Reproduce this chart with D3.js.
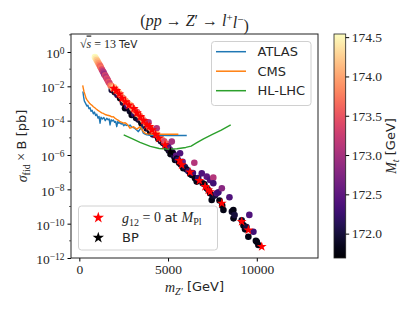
<!DOCTYPE html>
<html>
<head>
<meta charset="utf-8">
<script src="https://cdn.jsdelivr.net/npm/d3@7"></script>
<style>
body { margin: 0; background: #fff; }
text { fill: #262626; }
</style>
</head>
<body>
<div id="chart"></div>
<script>
// experimental limits: mass [GeV] and log10 of sigma x B [pb]
var atlasMass = [200,240,280,330,380,430,480,540,600,660,720,790,850,920,980,1050,1110,1167,1220,1300,1380,1460,1545,1620,1680,1730,1790,1850,1917,1990,2050,2108,2170,2230,2294,2360,2430,2500,2576,2650,2720,2800,2858,2950,3044,3130,3230,3326,3420,3517,3560,3608,3700,3800,4000,4500,5000,5500,6054];
var atlasLog = [-2.30,-2.60,-2.85,-2.95,-3.05,-3.15,-3.10,-3.30,-3.25,-3.45,-3.40,-3.60,-3.50,-3.70,-3.62,-3.85,-3.75,-4.15,-3.80,-3.90,-3.82,-4.00,-3.86,-3.95,-3.90,-4.25,-3.95,-4.02,-3.96,-4.10,-4.05,-4.35,-4.05,-4.15,-4.12,-4.20,-4.15,-4.30,-4.22,-4.28,-4.25,-4.32,-4.25,-4.38,-4.41,-4.45,-4.55,-4.64,-4.50,-4.37,-4.62,-4.73,-4.78,-4.83,-4.85,-4.86,-4.86,-4.86,-4.86];

var cmsMass = [190,220,260,321,380,440,507,570,640,710,789,870,950,1050,1167,1260,1350,1450,1545,1650,1750,1830,1917,2000,2100,2200,2294,2400,2500,2580,2672,2760,2858,2950,3044,3140,3236,3330,3422,3520,3608,3700,3800,4200,5000,5580];
var cmsLog = [-1.94,-2.10,-2.30,-2.50,-2.70,-2.80,-2.89,-2.98,-3.05,-3.10,-3.19,-3.25,-3.32,-3.40,-3.48,-3.55,-3.58,-3.64,-3.67,-3.70,-3.73,-3.78,-3.77,-3.85,-3.92,-3.98,-4.06,-4.10,-4.14,-4.12,-4.19,-4.30,-4.44,-4.40,-4.35,-4.42,-4.50,-4.42,-4.35,-4.50,-4.64,-4.72,-4.77,-4.79,-4.79,-4.79];

var hllhcMass = [2500,3000,3420,4000,4500,5000,5500,6000,6300,6600,7000,7500,8000,8530];
var hllhcLog = [-4.83,-5.06,-5.26,-5.50,-5.62,-5.66,-5.64,-5.56,-5.48,-5.30,-5.06,-4.80,-4.55,-4.25];

// scan points: [m_Z' GeV, log10 sigma pb, M_t GeV]
var scan = [
  [880,-0.30,174.52],[930,-0.38,174.4],[980,-0.47,174.25],[1030,-0.56,174.1],[1080,-0.66,173.95],
  [1130,-0.74,173.8],[1180,-0.84,173.6],[1220,-0.92,173.7],[1270,-1.02,173.4],[1320,-1.12,173.2],
  [1370,-1.20,173.05],[1400,-1.30,172.9],[1450,-1.36,173.3],[1500,-1.46,173.1],[1550,-1.55,173.4],
  [1600,-1.64,173.25],[1650,-1.75,173.5],[1700,-1.82,173.3],[1760,-1.95,173.7],[1826,-2.21,172.0],
  [1850,-2.02,173.9],[1900,-2.12,174.1],
  [1960,-2.05,174.2],[2000,-2.35,171.9],[2050,-2.20,174.0],[2120,-2.28,173.8],[2150,-2.50,172.1],
  [2200,-2.33,174.2],[2280,-2.45,173.9],[2300,-2.70,171.8],[2350,-2.55,174.1],[2450,-2.68,173.7],
  [2460,-2.95,172.0],[2520,-2.78,174.2],[2576,-3.28,171.8],[2600,-2.85,173.9],[2680,-2.95,174.0],
  [2700,-3.15,172.3],[2780,-3.05,173.8],[2850,-3.45,171.9],[2880,-3.10,174.1],[2954,-3.67,171.8],
  [2980,-3.25,173.7],[3060,-3.35,174.2],[3100,-3.62,172.2],[3150,-3.45,173.9],[3200,-3.85,171.9],
  [3250,-3.50,173.5],[3300,-3.62,174.1],[3350,-3.95,172.0],[3400,-3.70,173.8],[3480,-3.85,174.0],
  [3500,-4.15,171.8],[3560,-3.90,173.6],[3620,-4.00,174.2],[3650,-4.28,172.1],[3700,-4.05,173.3],
  [3760,-4.20,173.9],[3800,-4.45,171.9],[3850,-4.22,174.0],[3900,-4.10,173.1],[3950,-4.40,173.7],
  [4000,-4.68,171.8],[4050,-4.45,174.1],[4120,-4.55,173.8],[4150,-4.80,172.0],[4220,-4.65,173.9],
  [4300,-4.85,172.2],[4360,-4.44,173.1],[4380,-4.80,174.0],[4450,-5.05,171.8],[4500,-4.95,173.7],
  [4566,-4.99,172.9],[4600,-5.20,172.0],[4650,-5.10,173.9],[4720,-5.30,171.9],[4780,-5.20,173.4],
  [4850,-5.45,172.1],[4900,-5.35,173.6],
  [4950,-5.62,171.8],[5000,-5.50,172.4],[5050,-5.75,171.9],[5100,-5.68,172.6],[5150,-5.95,171.8],
  [5210,-5.22,173.0],[5250,-5.85,172.3],[5300,-5.95,171.8],[5350,-6.10,172.0],[5395,-6.29,171.8],
  [5450,-6.05,172.5],[5500,-6.20,171.9],[5560,-6.30,172.2],[5620,-6.45,171.8],[5676,-5.90,172.4],
  [5720,-6.55,171.9],[5770,-6.48,171.8],[5820,-6.40,172.6],[5860,-6.77,171.8],[5950,-6.70,172.1],
  [6050,-6.85,171.9],[6150,-6.95,172.2],[6250,-7.10,171.8],[6335,-7.16,171.8],[6400,-7.05,172.3],
  [6480,-6.45,173.1],[6520,-7.36,171.8],[6615,-7.55,171.8],[6700,-7.35,172.2],[6900,-7.07,172.4],
  [6950,-7.65,171.9],[7050,-7.70,171.8],[7180,-7.26,172.5],[7180,-7.94,171.8],[7280,-8.05,171.9],
  [7370,-7.45,172.4],[7370,-8.23,171.8],[7460,-8.62,171.8],[7520,-8.40,171.9],[7550,-7.32,173.1],
  [7550,-7.65,172.3],[7650,-8.35,172.0],[7745,-8.23,172.4],[7835,-8.17,172.3],[7900,-8.65,171.8],
  [8030,-7.94,172.8],[8050,-8.95,171.8],[8120,-9.20,171.8],[8460,-8.46,172.4],[8600,-9.30,171.9],
  [8680,-9.20,171.8],[8690,-9.69,171.8],[8750,-9.50,172.0],[9150,-9.80,171.9],[9250,-10.10,171.8],
  [9340,-10.33,171.8],[9420,-10.20,172.0],[9525,-10.76,171.8],[9580,-9.49,172.4],[9810,-10.47,172.3],
  [9950,-11.00,171.8],[10000,-11.05,171.8],[10090,-11.24,171.8]
];

// g12 = 0 at M_Pl points: [m_Z', log10 sigma]
var stars = [
  [1940,-2.12],[2080,-2.25],[2250,-2.45],[2407,-2.70],[2600,-2.90],[2800,-3.10],[3066,-3.30],
  [3250,-3.55],[3440,-3.77],[3620,-4.00],[3815,-4.25],[3950,-4.35],[4100,-4.54],[4300,-4.80],
  [4475,-5.03],[4830,-5.42],[5640,-6.33],[5770,-6.58],[6240,-7.00],[6765,-7.49],[7085,-7.84],
  [7270,-8.04],[7370,-8.14],[8030,-8.81],[9150,-9.88],[9525,-10.37],[10280,-11.34]
];
var bp = [[5130,-5.81]];

var xTicks = [0, 5000, 10000];
var yTickExp = [0, -2, -4, -6, -8, -10, -12];
var yMinorExp = [1, -1, -3, -5, -7, -9, -11];
var cTicks = [172.0, 172.5, 173.0, 173.5, 174.0, 174.5];

var W = 415, H = 311;
var L = 71, R = 318, T = 34, B = 258;
var serif = "'Liberation Serif', 'DejaVu Serif', serif";
var sans = "'DejaVu Sans', sans-serif";

var svg = d3.select("#chart").append("svg")
    .attr("width", W)
    .attr("height", H);

var x = d3.scaleLinear().domain([-470, 13450]).range([L, R]);
var y = d3.scaleLog().domain([1e-12, Math.pow(10, 1.048)]).range([B, T]);
var cmin = 171.69, cmax = 174.54;
var color = d3.scaleSequential(d3.interpolateMagma).domain([cmin, cmax]);
var cy = d3.scaleLinear().domain([cmin, cmax]).range([B, T]);

svg.append("clipPath").attr("id", "clip")
  .append("rect").attr("x", L).attr("y", T).attr("width", R - L).attr("height", B - T);

var g = svg.append("g").attr("clip-path", "url(#clip)");

function pts(ms, ls) { return ms.map(function(m, i) { return [m, Math.pow(10, ls[i])]; }); }
var line = d3.line().x(function(d) { return x(d[0]); }).y(function(d) { return y(d[1]); });

// scan circles
g.selectAll(".scan")
    .data(scan)
  .enter().append("circle")
    .attr("cx", function(d) { return x(d[0]); })
    .attr("cy", function(d) { return y(Math.pow(10, d[1])); })
    .attr("r", 3.3)
    .attr("fill", function(d) { return color(d[2]); });

// limit lines
var lines = [
  {name: "ATLAS", col: "#1f77b4", data: pts(atlasMass, atlasLog)},
  {name: "CMS", col: "#ff7f0e", data: pts(cmsMass, cmsLog)},
  {name: "HL-LHC", col: "#2ca02c", data: pts(hllhcMass, hllhcLog)}
];
g.selectAll(".lim")
    .data(lines)
  .enter().append("path")
    .attr("d", function(d) { return line(d.data); })
    .attr("fill", "none")
    .attr("stroke", function(d) { return d.col; })
    .attr("stroke-width", 1.4)
    .attr("stroke-linejoin", "round");

var star = d3.symbol().type(d3.symbolStar).size(30);
g.selectAll(".star")
    .data(stars)
  .enter().append("path")
    .attr("d", star)
    .attr("transform", function(d) { return "translate(" + x(d[0]) + "," + y(Math.pow(10, d[1])) + ")"; })
    .attr("fill", "#ff0000");

g.selectAll(".bp")
    .data(bp)
  .enter().append("path")
    .attr("d", star)
    .attr("transform", function(d) { return "translate(" + x(d[0]) + "," + y(Math.pow(10, d[1])) + ")"; })
    .attr("fill", "#000");

// axes
var xAxis = svg.append("g")
    .attr("transform", "translate(0," + B + ")")
    .call(d3.axisBottom(x).tickValues(xTicks).tickSize(3.5).tickSizeOuter(0).tickFormat(d3.format("d")));
xAxis.select(".domain").remove();
xAxis.selectAll("text").attr("font-family", serif).attr("font-size", "13.5px").attr("fill", "#262626");

var yAxis = svg.append("g")
    .attr("transform", "translate(" + L + ",0)")
    .call(d3.axisLeft(y).tickValues(yTickExp.map(function(e) { return Math.pow(10, e); })).tickSize(3.5).tickSizeOuter(0).tickFormat(""));
yAxis.select(".domain").remove();
yAxis.selectAll(".tick text").each(function(d) {
  var e = Math.round(Math.log10(d));
  var t = d3.select(this).attr("font-family", serif).attr("font-size", "13.5px").attr("fill", "#262626")
      .attr("x", -6.5).attr("dy", "0.42em");
  t.append("tspan").text("10");
  t.append("tspan").attr("dy", "-0.45em").attr("font-size", "9.5px").text(e < 0 ? "\u2212" + (-e) : e);
});
svg.append("g").selectAll("line")
    .data(yMinorExp)
  .enter().append("line")
    .attr("x1", L).attr("x2", L - 2)
    .attr("y1", function(d) { return y(Math.pow(10, d)); })
    .attr("y2", function(d) { return y(Math.pow(10, d)); })
    .attr("stroke", "#000").attr("stroke-width", 0.6)
    .style("display", function(d) { return y(Math.pow(10, d)) < T ? "none" : null; });

svg.append("rect")
    .attr("x", L).attr("y", T).attr("width", R - L).attr("height", B - T)
    .attr("fill", "none").attr("stroke", "#222").attr("stroke-width", 1);

// annotation
var ann = svg.append("text").attr("x", 80).attr("y", 47.5).attr("font-family", serif).attr("font-size", "12px");
ann.append("tspan").text("\u221a");
ann.append("tspan").attr("font-style", "italic").style("text-decoration", "overline").text("s");
ann.append("tspan").text(" = 13 ");
ann.append("tspan").attr("font-family", sans).attr("font-size", "10.5px").text("TeV");

// title
var title = svg.append("text").attr("x", (L + R) / 2).attr("y", 26).attr("text-anchor", "middle")
    .attr("font-family", serif).attr("font-size", "16px");
title.append("tspan").text("(");
title.append("tspan").attr("font-style", "italic").text("pp");
title.append("tspan").text(" \u2192 ");
title.append("tspan").attr("font-style", "italic").text("Z");
title.append("tspan").text("\u2032 \u2192 ");
title.append("tspan").attr("font-style", "italic").text("l");
title.append("tspan").attr("dy", "-0.45em").attr("font-size", "11px").text("+");
title.append("tspan").attr("dy", "0.45em").attr("font-style", "italic").text("l");
title.append("tspan").attr("dy", "-0.45em").attr("font-size", "11px").text("\u2212");
title.append("tspan").attr("dy", "0.45em").text(")");

// x label
var xl = svg.append("text").attr("x", (L + R) / 2).attr("y", 292).attr("text-anchor", "middle")
    .attr("font-family", serif).attr("font-size", "14px");
xl.append("tspan").attr("font-style", "italic").text("m");
xl.append("tspan").attr("dy", "0.3em").attr("font-size", "10px").attr("font-style", "italic").text("Z\u2032");
xl.append("tspan").attr("dy", "-0.3em").attr("font-family", sans).attr("font-size", "13px").text(" [GeV]");

// y label
var yl = svg.append("text").attr("transform", "translate(27," + ((T + B) / 2) + ") rotate(-90)")
    .attr("text-anchor", "middle").attr("font-family", serif).attr("font-size", "14px");
yl.append("tspan").attr("font-style", "italic").text("\u03c3");
yl.append("tspan").attr("dy", "0.3em").attr("font-size", "10px").text("fid");
yl.append("tspan").attr("dy", "-0.3em").text(" \u00d7 ");
yl.append("tspan").attr("font-family", sans).attr("font-size", "13px").text("B [pb]");

// legend (limits)
var lg = svg.append("g");
lg.append("rect").attr("x", 211.5).attr("y", 41.5).attr("width", 99.5).attr("height", 64).attr("rx", 3)
    .attr("fill", "#fff").attr("fill-opacity", 0.8).attr("stroke", "#d0d0d0");
lg.selectAll(".li")
    .data(lines)
  .enter().append("line")
    .attr("x1", 216).attr("x2", 246)
    .attr("y1", function(d, i) { return 51.7 + i * 19.5; })
    .attr("y2", function(d, i) { return 51.7 + i * 19.5; })
    .attr("stroke", function(d) { return d.col; }).attr("stroke-width", 1.5);
lg.selectAll(".lt")
    .data(lines)
  .enter().append("text")
    .attr("x", 257.5).attr("y", function(d, i) { return 51.7 + i * 19.5; }).attr("dy", "0.36em")
    .attr("font-family", sans).attr("font-size", "13px")
    .text(function(d) { return d.name; });

// legend (points)
var lg2 = svg.append("g");
lg2.append("rect").attr("x", 78.5).attr("y", 206).attr("width", 139).attr("height", 44).attr("rx", 3)
    .attr("fill", "#fff").attr("fill-opacity", 0.8).attr("stroke", "#d0d0d0");
var bigStar = d3.symbol().type(d3.symbolStar).size(40);
lg2.append("path").attr("d", bigStar).attr("transform", "translate(98.3,217.7)").attr("fill", "#ff0000");
lg2.append("path").attr("d", bigStar).attr("transform", "translate(98.3,237.7)").attr("fill", "#000");
var t1 = lg2.append("text").attr("x", 122).attr("y", 217.7).attr("dy", "0.36em").attr("font-family", serif).attr("font-size", "14px");
t1.append("tspan").attr("font-style", "italic").text("g");
t1.append("tspan").attr("dy", "0.3em").attr("font-size", "10px").text("12");
t1.append("tspan").attr("dy", "-0.3em").text(" = 0 ");
t1.append("tspan").attr("font-family", sans).attr("font-size", "13px").text("at ");
t1.append("tspan").attr("font-style", "italic").text("M");
t1.append("tspan").attr("dy", "0.3em").attr("font-size", "10px").text("Pl");
lg2.append("text").attr("x", 122).attr("y", 237.7).attr("dy", "0.36em").attr("font-family", sans).attr("font-size", "13px").text("BP");

// colorbar
var cbX = 334, cbW = 11.7;
var grad = svg.append("defs").append("linearGradient").attr("id", "cgrad")
    .attr("x1", 0).attr("y1", 1).attr("x2", 0).attr("y2", 0);
grad.selectAll("stop")
    .data(d3.range(0, 1.0001, 0.05))
  .enter().append("stop")
    .attr("offset", function(d) { return d; })
    .attr("stop-color", function(d) { return d3.interpolateMagma(d); });
svg.append("rect").attr("x", cbX).attr("y", T).attr("width", cbW).attr("height", B - T)
    .attr("fill", "url(#cgrad)").attr("stroke", "#222").attr("stroke-width", 0.8);
var cAxis = svg.append("g")
    .attr("transform", "translate(" + (cbX + cbW) + ",0)")
    .call(d3.axisRight(cy).tickValues(cTicks).tickSize(3.5).tickSizeOuter(0).tickFormat(d3.format(".1f")));
cAxis.select(".domain").remove();
cAxis.selectAll("text").attr("font-family", serif).attr("font-size", "13.5px").attr("fill", "#262626").attr("x", 6);

var cl = svg.append("text").attr("transform", "translate(396," + ((T + B) / 2) + ") rotate(-90)")
    .attr("text-anchor", "middle").attr("font-family", serif).attr("font-size", "14px");
cl.append("tspan").attr("font-style", "italic").text("M");
cl.append("tspan").attr("dy", "0.3em").attr("font-size", "10px").attr("font-style", "italic").text("t");
cl.append("tspan").attr("dy", "-0.3em").attr("font-family", sans).attr("font-size", "13px").text(" [GeV]");
</script>
</body>
</html>
